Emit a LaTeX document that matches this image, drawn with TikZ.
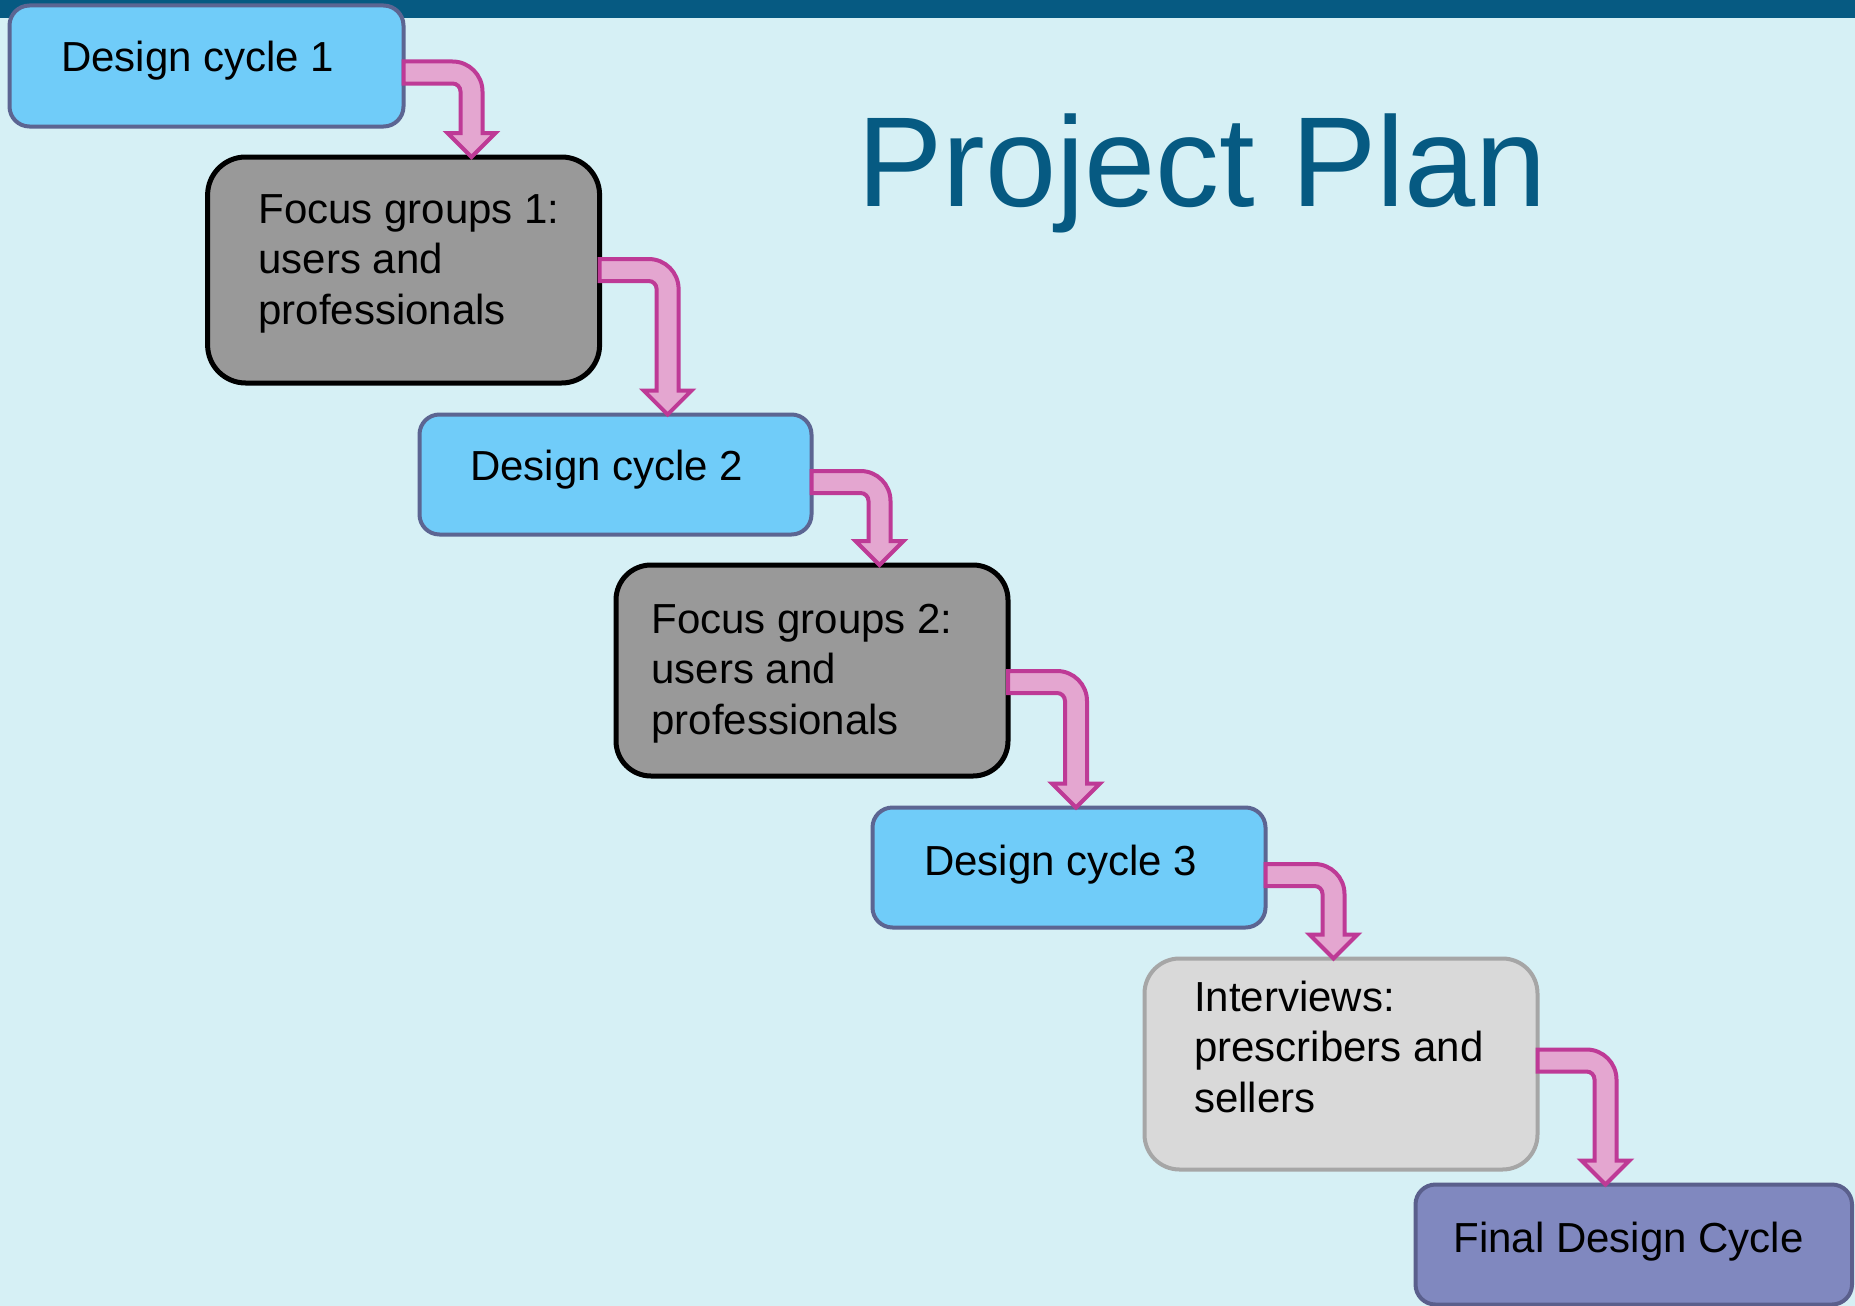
\documentclass[tikz,border=0pt]{standalone}
\usepackage{fontspec}
\setmainfont{Liberation Sans}
\usetikzlibrary{calc}
\definecolor{bgc}{RGB}{214,240,245}
\definecolor{barc}{RGB}{6,90,130}
\definecolor{dfill}{RGB}{112,204,249}
\definecolor{dline}{RGB}{92,101,146}
\definecolor{ffill}{RGB}{153,153,153}
\definecolor{ifill}{RGB}{217,217,217}
\definecolor{iline}{RGB}{166,166,166}
\definecolor{finfill}{RGB}{128,136,191}
\definecolor{finline}{RGB}{90,95,140}
\definecolor{afill}{RGB}{228,166,208}
\definecolor{aline}{RGB}{190,58,150}
\tikzset{
  box/.style={rectangle, inner sep=0pt, outer sep=0pt, anchor=north west},
  designbox/.style={box, fill=dfill, draw=dline, line width=4pt, rounded corners=20pt},
  focusbox/.style={box, fill=ffill, draw=black, line width=5pt},
  interbox/.style={box, fill=ifill, draw=iline, line width=4pt, rounded corners=35pt},
  finalbox/.style={box, fill=finfill, draw=finline, line width=4pt, rounded corners=20pt},
  boxtext/.style={inner sep=0pt, outer sep=0pt, anchor=base west, font=\fontsize{42}{50.5}\selectfont, text=black},
  flowarrow/.style={fill=afill, draw=aline, line width=4pt, line join=miter},
}
% #1 from node, #2 to node, #3 shaft centre below top of #1
\newcommand\bentarrow[3]{%
  \draw[flowarrow] let \p1=(#1.north east), \p2=(#2.north) in
    (\x1, \y1-#3pt+11pt) -- (\x1+49pt, \y1-#3pt+11pt)
    arc[start angle=90, end angle=0, radius=30pt]
    -- (\x1+79pt, \y2+24pt) -- (\x1+92pt, \y2+24pt) -- (\x1+68pt, \y2)
    -- (\x1+44pt, \y2+24pt) -- (\x1+57pt, \y2+24pt)
    -- (\x1+57pt, \y1-#3pt-19pt)
    arc[start angle=0, end angle=90, radius=8pt]
    -- (\x1, \y1-#3pt-11pt) -- cycle;}
\begin{document}
\begin{tikzpicture}[x=1pt, y=-1pt]
  \useasboundingbox (0,0) rectangle (1855,1306);
  \clip (0,0) rectangle (1855,1306);
  \fill[bgc] (0,0) rectangle (1855,1306);
  \fill[barc] (0,0) rectangle (1855,18);

  \node[anchor=base west, inner sep=0pt, font=\fontsize{128}{150}\selectfont, text=barc] (title) at (857,206) {Project Plan};

  \node[designbox, minimum width=394pt, minimum height=121pt] (b1) at (9.5,5.5) {};
  \node[focusbox, rounded corners=38pt, minimum width=392pt, minimum height=226pt] (b2) at (207.6,157) {};
  \node[designbox, minimum width=392pt, minimum height=120pt] (b3) at (419.5,414.5) {};
  \node[focusbox, rounded corners=35pt, minimum width=392pt, minimum height=211pt] (b4) at (616,565) {};
  \node[designbox, minimum width=393pt, minimum height=120pt] (b5) at (872.5,807.5) {};
  \node[interbox, minimum width=393pt, minimum height=211pt] (b6) at (1144.5,958.5) {};
  \node[finalbox, minimum width=436.5pt, minimum height=120pt] (b7) at (1415.5,1184.5) {};

  \node[boxtext] (t1) at (61,72) {Design cycle 1};
  \node[boxtext] (t2) at (258.5,223) {\begin{tabular}[t]{@{}l@{}}Focus groups 1:\\users and\\professionals\end{tabular}};
  \node[boxtext] (t3) at (470,480) {Design cycle 2};
  \node[boxtext] (t4) at (651.5,633) {\begin{tabular}[t]{@{}l@{}}Focus groups 2:\\users and\\professionals\end{tabular}};
  \node[boxtext] (t5) at (924,875) {Design cycle 3};
  \node[boxtext] (t6) at (1194,1011) {\begin{tabular}[t]{@{}l@{}}Interviews:\\prescribers and\\sellers\end{tabular}};
  \node[boxtext] (t7) at (1453.5,1252) {Final Design Cycle};

  \bentarrow{b1}{b2}{67}
  \bentarrow{b2}{b3}{113}
  \bentarrow{b3}{b4}{67.5}
  \bentarrow{b4}{b5}{117}
  \bentarrow{b5}{b6}{67.5}
  \bentarrow{b6}{b7}{102}
\end{tikzpicture}
\end{document}
